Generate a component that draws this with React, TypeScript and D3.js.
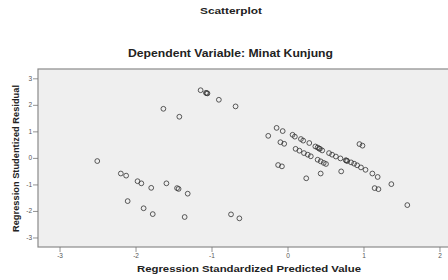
import React from 'react';
import * as d3 from 'd3';

// Regression Standardized Predicted Value (x) vs Studentized Residual (y)
const predicted = [
  -2.51, -2.2, -2.13, -1.98, -1.93, -1.8, -1.6, -1.46, -1.44, -1.32,
  -2.11, -1.9, -1.78, -1.36, -1.64, -1.43, -1.15, -1.08, -1.06, -1.07, -0.91,
  -0.69, -0.75, -0.64, -0.26, -0.15, -0.07, -0.1, -0.05, -0.13, -0.08,
  0.24, 0.43, 0.7, 0.94, 0.98, 1.14, 1.19, 1.36, 1.57,
  0.06, 0.09, 0.17, 0.2, 0.28, 0.36, 0.39, 0.41, 0.42, 0.45, 0.54, 0.58,
  0.63, 0.69, 0.76, 0.77, 0.78, 0.83, 0.87, 0.91, 0.96, 1.02, 1.11, 1.18,
  0.1, 0.15, 0.21, 0.26, 0.3, 0.39, 0.43, 0.47, 0.5,
];
const residual = [
  -0.1, -0.57, -0.65, -0.86, -0.94, -1.11, -0.94, -1.12, -1.15, -1.33,
  -1.61, -1.88, -2.1, -2.21, 1.87, 1.57, 2.57, 2.47, 2.45, 2.46, 2.21,
  1.96, -2.11, -2.26, 0.85, 1.15, 1.03, 0.61, 0.55, -0.25, -0.3,
  -0.75, -0.57, -0.49, 0.54, 0.48, -1.12, -1.16, -0.97, -1.76,
  0.89, 0.82, 0.73, 0.67, 0.58, 0.45, 0.41, 0.37, 0.36, 0.3, 0.2, 0.14,
  0.07, 0.0, -0.07, -0.08, -0.1, -0.15, -0.2, -0.26, -0.34, -0.43, -0.57, -0.7,
  0.36, 0.29, 0.2, 0.14, 0.08, -0.05, -0.11, -0.17, -0.21,
];
const xTicks = [-3, -2, -1, 0, 1, 2];
const yTicks = [-3, -2, -1, 0, 1, 2, 3];

const W = 448;
const H = 280;
const left = 38, right = 451, top = 69, bottom = 247;

export default function App() {
  const x = d3.scaleLinear().domain([-3.29, 2.145]).range([left, right]);
  const y = d3.scaleLinear().domain([-3.34, 3.37]).range([bottom, top]);
  const font = 'Arial, "Liberation Sans", sans-serif';

  return (
    <svg width={W} height={H} style={{ position: 'absolute', left: 0, top: 0, background: '#fff' }}>
      <text x={231} y={14} textAnchor="middle" fontFamily={font} fontWeight="bold" fontSize={9.5} fill="#222"
        textLength={62} lengthAdjust="spacingAndGlyphs">
        Scatterplot
      </text>
      <text x={230.5} y={57} textAnchor="middle" fontFamily={font} fontWeight="bold" fontSize={10} fill="#222"
        textLength={205} lengthAdjust="spacingAndGlyphs">
        Dependent Variable: Minat Kunjung
      </text>

      <rect x={left} y={top} width={right - left} height={bottom - top} fill="#efefef" stroke="#8a8a8a" strokeWidth={1.2} />

      {yTicks.map(t => (
        <g key={'y' + t}>
          <line x1={left - 5} x2={left} y1={y(t)} y2={y(t)} stroke="#777" strokeWidth={0.8} />
          <text x={left - 6} y={y(t) + 2} textAnchor="end" fontFamily={font} fontSize={6.5} fill="#555">{t}</text>
        </g>
      ))}
      {xTicks.map(t => (
        <g key={'x' + t}>
          <line x1={x(t)} x2={x(t)} y1={bottom} y2={bottom + 5} stroke="#777" strokeWidth={0.8} />
          <text x={x(t)} y={bottom + 11} textAnchor="middle" fontFamily={font} fontSize={6.5} fill="#555">{t}</text>
        </g>
      ))}

      {predicted.map((p, i) => (
        <circle key={i} cx={x(p)} cy={y(residual[i])} r={2.4} fill="none" stroke="#333" strokeOpacity={0.8} strokeWidth={1} />
      ))}

      <text x={249} y={272} textAnchor="middle" fontFamily={font} fontWeight="bold" fontSize={9.5} fill="#222"
        textLength={224} lengthAdjust="spacingAndGlyphs">
        Regression Standardized Predicted Value
      </text>
      <text transform={`translate(19,158.5) rotate(-90)`} textAnchor="middle" fontFamily={font} fontWeight="bold" fontSize={8.5} fill="#222"
        textLength={147} lengthAdjust="spacingAndGlyphs">
        Regression Studentized Residual
      </text>
    </svg>
  );
}
